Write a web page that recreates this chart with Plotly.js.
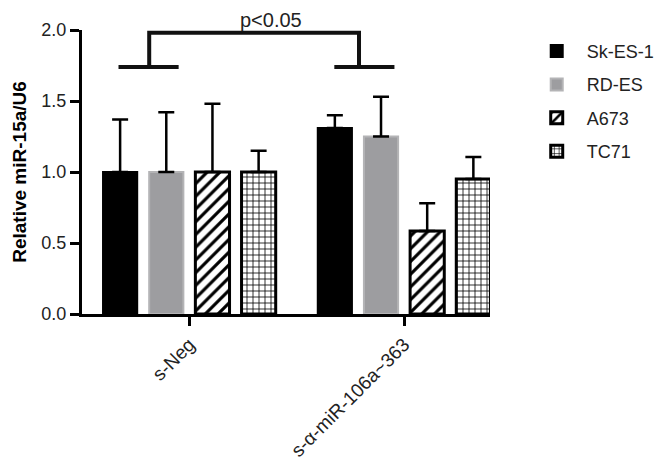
<!DOCTYPE html>
<html>
<head>
<meta charset="utf-8">
<script src="https://cdn.plot.ly/plotly-3.0.1.min.js"></script>
<style>
  html, body { margin: 0; padding: 0; background: #fff; }
  #chart { width: 662px; height: 463px; }
</style>
</head>
<body>
<div id="chart"></div>
<script>
var groups = ['s-Neg', 's-\u03b1-miR-106a~363'];

var skes1 = [1.0, 1.31];
var skes1Err = [0.37, 0.09];
var rdes = [1.0, 1.25];
var rdesErr = [0.42, 0.28];
var a673 = [1.0, 0.585];
var a673Err = [0.48, 0.195];
var tc71 = [1.0, 0.95];
var tc71Err = [0.15, 0.155];

var noLower = [0, 0];

function errBars(up) {
  return {
    type: 'data',
    symmetric: false,
    array: up,
    arrayminus: noLower,
    color: '#000',
    thickness: 2.5,
    width: 8
  };
}

var trace1 = {
  x: groups, y: skes1, name: 'Sk-ES-1', type: 'bar', legendgroup: 'a',
  marker: { color: '#000', line: { color: '#000', width: 2 } },
  error_y: errBars(skes1Err)
};
var trace2 = {
  x: groups, y: rdes, name: 'RD-ES', type: 'bar', legendgroup: 'b',
  marker: { color: '#9d9da0', line: { color: '#b4b4b6', width: 2 } },
  error_y: errBars(rdesErr)
};
var trace3 = {
  x: groups, y: a673, name: 'A673', type: 'bar', legendgroup: 'c',
  marker: {
    color: '#fff',
    line: { color: '#000', width: 3 },
    pattern: { shape: '/', fgcolor: '#000', bgcolor: '#fff', size: 9, solidity: 0.35 }
  },
  error_y: errBars(a673Err)
};
var trace4 = {
  x: groups, y: tc71, name: 'TC71', type: 'bar', legendgroup: 'd',
  marker: {
    color: '#fff',
    line: { color: '#000', width: 3 },
    pattern: { shape: '+', fgcolor: '#000', bgcolor: '#fff', size: 6, solidity: 0.25 }
  },
  error_y: errBars(tc71Err)
};

var data = [trace1, trace2, trace3, trace4];

var layout = {
  width: 662,
  height: 463,
  autosize: false,
  paper_bgcolor: '#fff',
  plot_bgcolor: '#fff',
  font: { family: 'Liberation Sans, Arial, sans-serif', size: 18, color: '#222' },
  margin: { l: 82, r: 172, t: 30, b: 149, autoexpand: false },
  barmode: 'group',
  bargap: 0.14,
  bargroupgap: 0.26,
  showlegend: true,
  legend: {
    x: 1.09, y: 0.99, xanchor: 'left', yanchor: 'top',
    font: { size: 18, color: '#222' },
    traceorder: 'grouped',
    tracegroupgap: 7,
    itemwidth: 50,
    bgcolor: 'rgba(0,0,0,0)'
  },
  xaxis: {
    type: 'category',
    range: [-0.5, 1.4],
    showline: true, linecolor: '#000', linewidth: 3,
    ticks: 'outside', ticklen: 9, tickwidth: 3, tickcolor: '#000',
    tickangle: -45,
    tickfont: { size: 19, color: '#222' },
    showgrid: false, zeroline: false
  },
  yaxis: {
    range: [0, 2.0],
    tickvals: [0, 0.5, 1.0, 1.5, 2.0],
    ticktext: ['0.0', '0.5', '1.0', '1.5', '2.0'],
    showline: true, linecolor: '#000', linewidth: 3,
    ticks: 'outside', ticklen: 9, tickwidth: 3, tickcolor: '#000',
    tickfont: { size: 18, color: '#222' },
    showgrid: false, zeroline: false,
    title: { text: '<b>Relative miR-15a/U6</b>', font: { size: 19, color: '#000' }, standoff: 10 }
  },
  shapes: [
    { type: 'line', xref: 'x', yref: 'y', x0: -0.33, x1: -0.05, y0: 1.74, y1: 1.74, line: { color: '#111', width: 4 } },
    { type: 'line', xref: 'x', yref: 'y', x0: 0.675, x1: 0.955, y0: 1.74, y1: 1.74, line: { color: '#111', width: 4 } },
    { type: 'path', xref: 'x', yref: 'y', path: 'M -0.187 1.74 L -0.187 1.98 L 0.79 1.98 L 0.79 1.74', line: { color: '#111', width: 4 } }
  ],
  annotations: [
    { xref: 'x', yref: 'paper', x: 0.38, y: 1.0, yanchor: 'bottom', yshift: -3, text: 'p<0.05', showarrow: false, font: { size: 20, color: '#222' } }
  ]
};

Plotly.newPlot('chart', data, layout, { displayModeBar: false, staticPlot: true });
</script>
</body>
</html>
